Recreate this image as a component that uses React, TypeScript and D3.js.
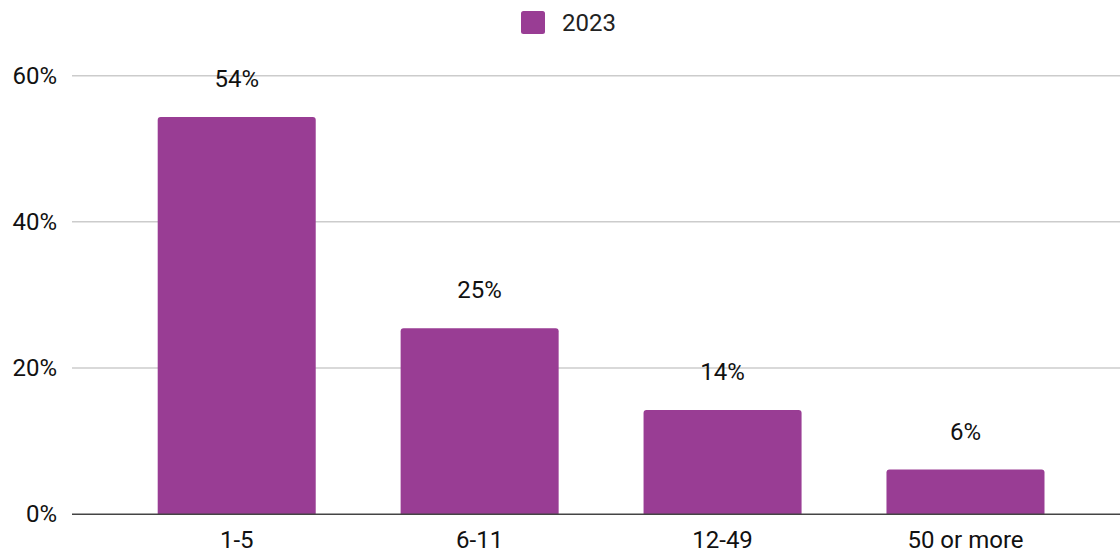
import React from "react";
import * as d3 from "d3";

const categories = ["1-5", "6-11", "12-49", "50 or more"];
const values2023 = [54.35, 25.45, 14.27, 6.1];
const valueLabels = ["54%", "25%", "14%", "6%"];
const yTicks = [0, 20, 40, 60];
const seriesName = "2023";

const W = 1120;
const H = 554;
const COLOR = "#993d94";
const FONT = "Roboto, 'Liberation Sans', Arial, sans-serif";

function topRoundedRect(x: number, y: number, w: number, h: number, r: number) {
  const rr = Math.min(r, h, w / 2);
  return `M${x},${y + h}V${y + rr}Q${x},${y} ${x + rr},${y}H${x + w - rr}Q${x + w},${y} ${x + w},${y + rr}V${y + h}Z`;
}

export default function App() {
  const x = d3
    .scaleBand<string>()
    .domain(categories)
    .range([115.25, 1086.95])
    .paddingInner(0.3495)
    .paddingOuter(0.17475);
  const y = d3.scaleLinear().domain([0, 60]).range([514.2, 75.7]);

  return (
    <svg
      width={W}
      height={H}
      style={{ position: "absolute", left: 0, top: 0, background: "#fff" }}
      fontFamily={FONT}
    >
      {/* legend */}
      <rect x={521} y={11} width={24} height={23} rx={2.5} fill={COLOR} />
      <text x={562} y={31} fontSize={24} fill="#222">
        {seriesName}
      </text>

      {/* gridlines */}
      {yTicks.map((t) => (
        <g key={t}>
          {t !== 0 && (
            <line x1={72} x2={W} y1={y(t)} y2={y(t)} stroke="#cccccc" strokeWidth={1.5} />
          )}
          <text x={57} y={y(t) + 8} fontSize={24} textAnchor="end" fill="#111">
            {t}%
          </text>
        </g>
      ))}

      {/* bars */}
      {categories.map((c, i) => {
        const bx = x(c)!;
        const by = y(values2023[i]);
        const bh = y(0) - by;
        return (
          <g key={c}>
            <path d={topRoundedRect(bx, by, x.bandwidth(), bh, 3)} fill={COLOR} />
            <text
              x={bx + x.bandwidth() / 2}
              y={by - 30}
              fontSize={24}
              textAnchor="middle"
              fill="#111"
            >
              {valueLabels[i]}
            </text>
            <text
              x={bx + x.bandwidth() / 2}
              y={548}
              fontSize={24}
              textAnchor="middle"
              fill="#111"
            >
              {c}
            </text>
          </g>
        );
      })}

      {/* baseline */}
      <line x1={72} x2={W} y1={y(0)} y2={y(0)} stroke="#444" strokeWidth={1.5} />
    </svg>
  );
}
